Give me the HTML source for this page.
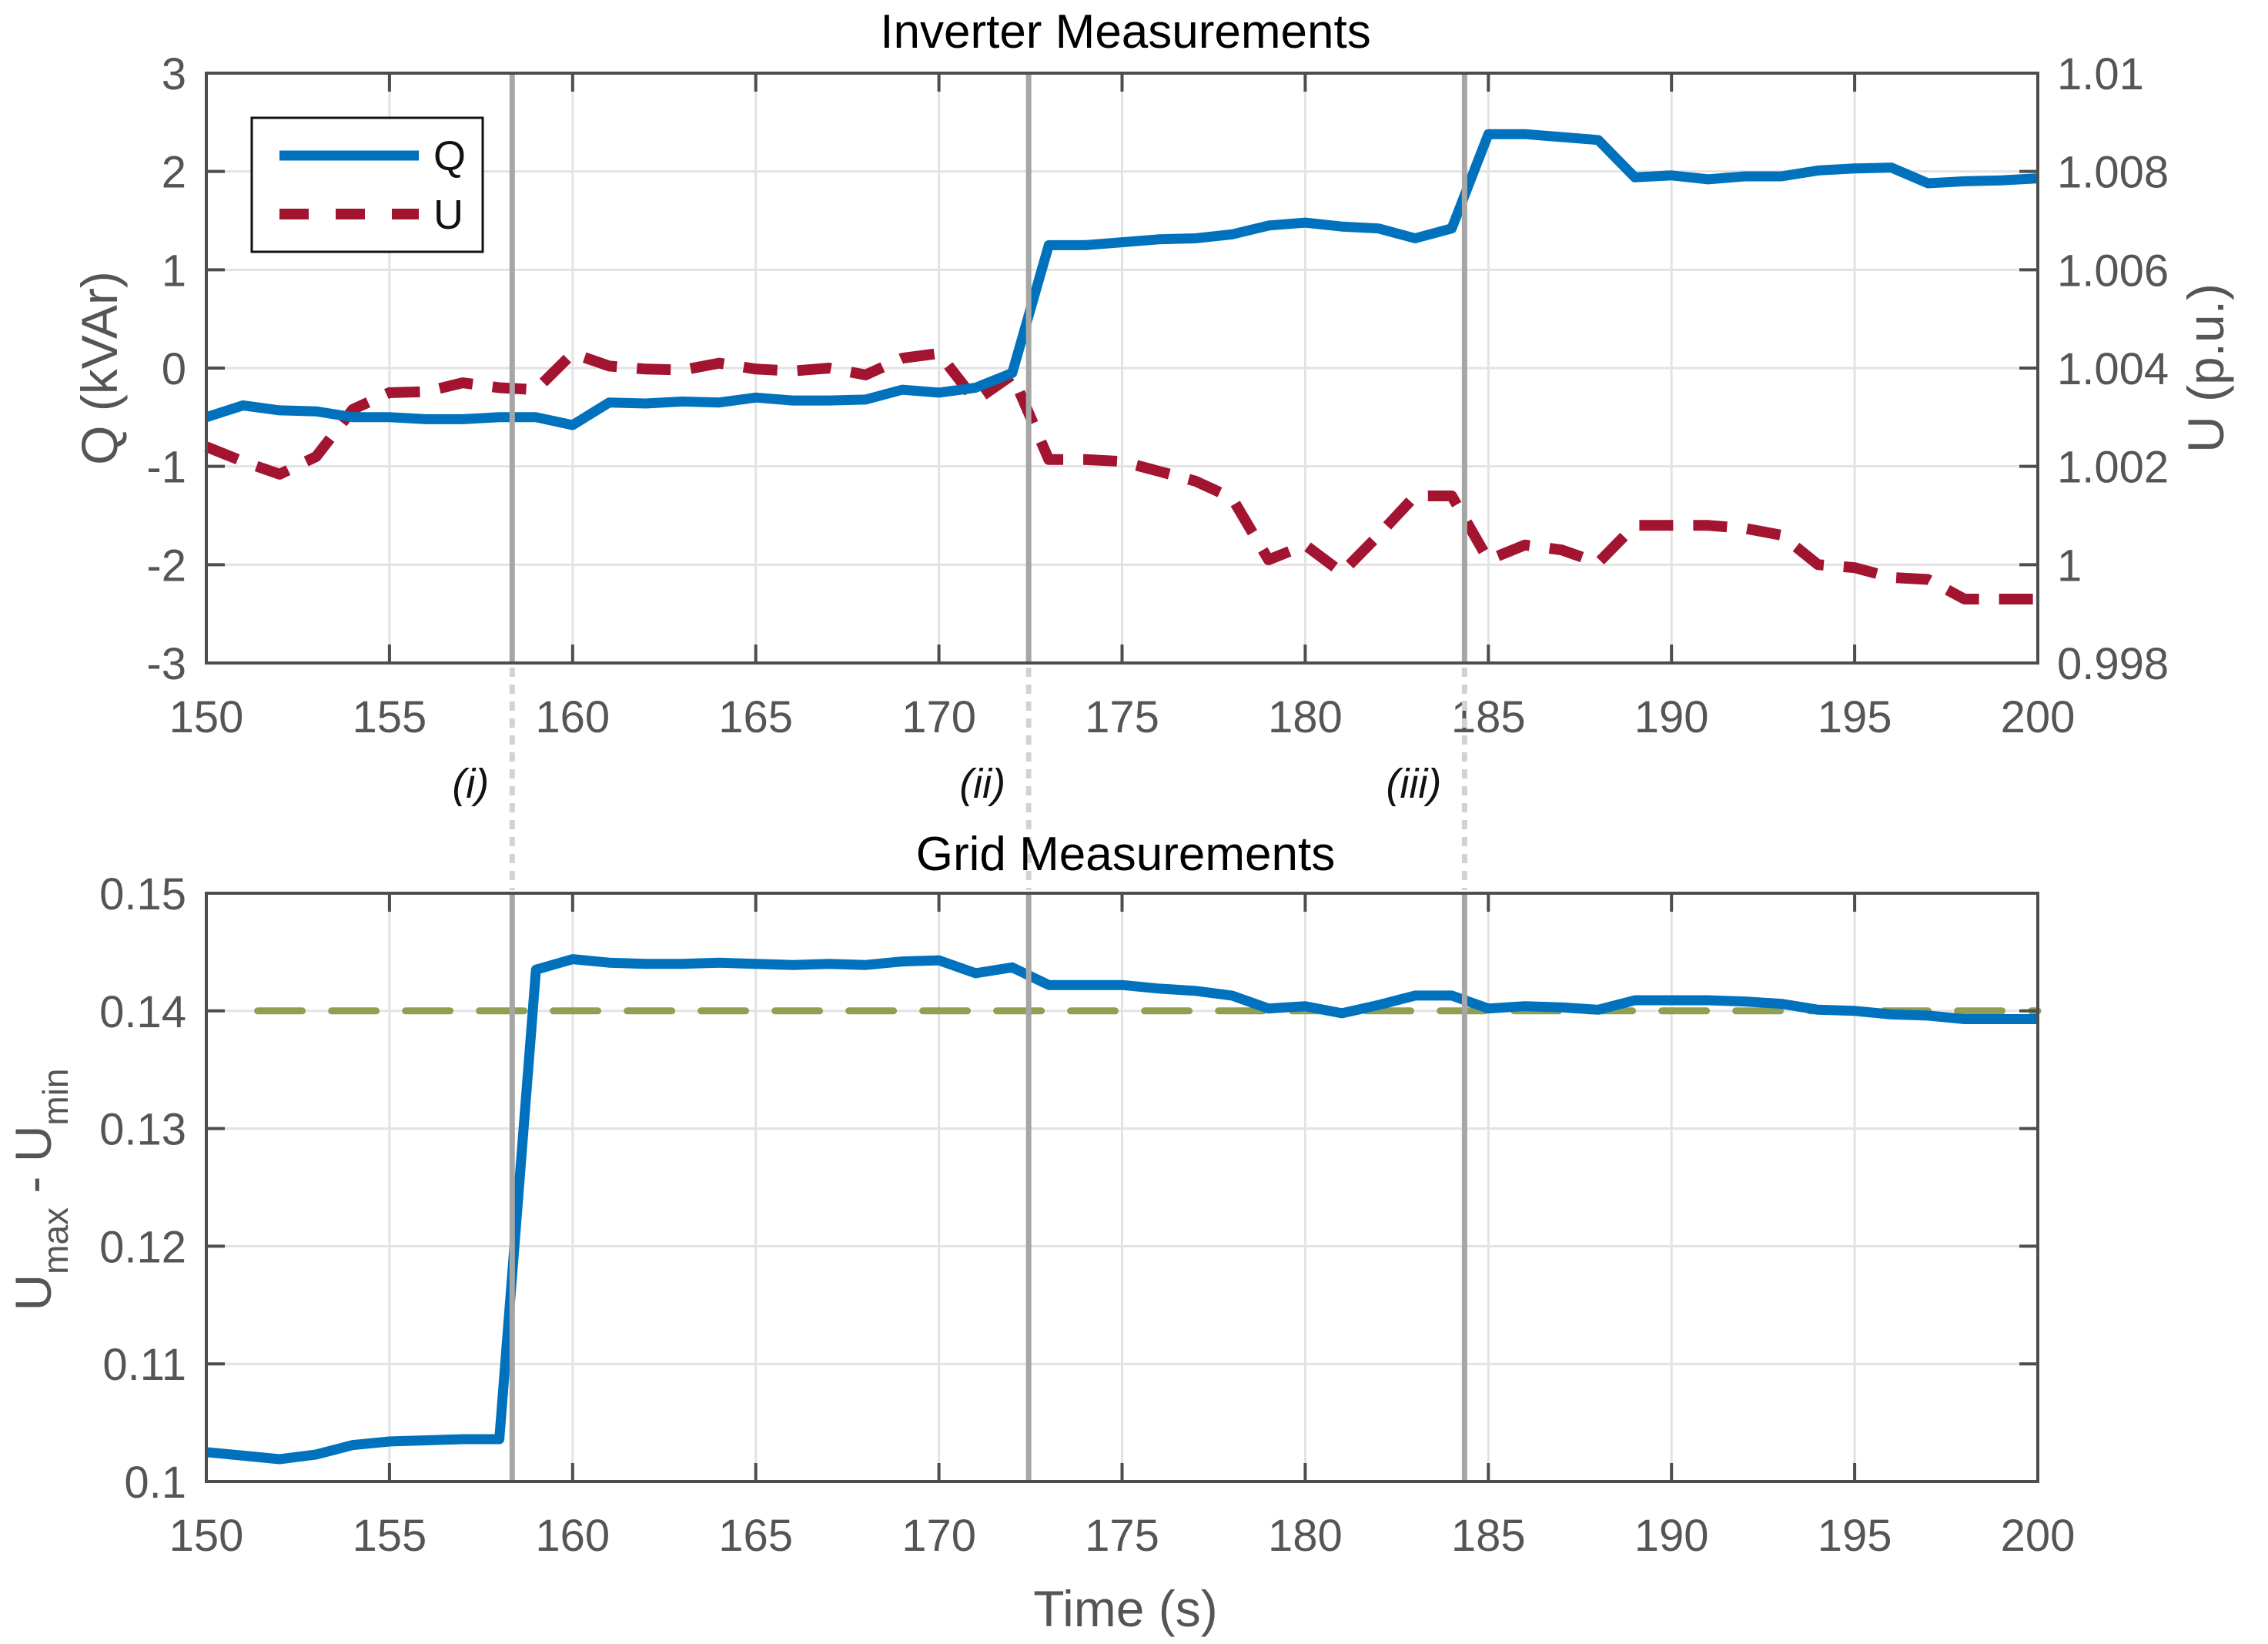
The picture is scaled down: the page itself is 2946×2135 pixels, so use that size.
<!DOCTYPE html>
<html><head><meta charset="utf-8"><style>
html,body{margin:0;padding:0;background:#fff;}
svg{display:block;font-family:"Liberation Sans",Arial,sans-serif;}
</style></head><body>
<svg id="chart" width="2946" height="2135" viewBox="0 0 2946 2135" xmlns="http://www.w3.org/2000/svg"></svg>
<script>
const times = [150,151,152,153,154,155,156,157,158,159,160,161,162,163,164,165,166,167,168,169,170,171,172,173,174,175,176,177,178,179,180,181,182,183,184,185,186,187,188,189,190,191,192,193,194,195,196,197,198,199,200];
const qValues = [-0.5,-0.38,-0.43,-0.44,-0.5,-0.5,-0.52,-0.52,-0.5,-0.5,-0.58,-0.35,-0.36,-0.34,-0.35,-0.3,-0.33,-0.33,-0.32,-0.22,-0.25,-0.2,-0.05,1.25,1.25,1.28,1.31,1.32,1.36,1.45,1.48,1.44,1.42,1.32,1.42,2.38,2.38,2.35,2.32,1.94,1.96,1.92,1.95,1.95,2.01,2.03,2.04,1.88,1.9,1.91,1.93];
const uValues = [1.0024,1.0021,1.00184,1.0022,1.00316,1.0035,1.00352,1.0037,1.0036,1.00356,1.0043,1.00404,1.00398,1.00396,1.0041,1.00398,1.00394,1.004,1.00386,1.0042,1.0043,1.00334,1.00386,1.00214,1.00214,1.0021,1.0019,1.0017,1.00136,1.0001,1.0004,0.99984,1.0006,1.0014,1.0014,1.0001,1.0004,1.0003,1.00004,1.0008,1.0008,1.0008,1.00074,1.0006,1.0,0.99994,0.99974,0.9997,0.9993,0.9993,0.9993];
const gridValues = [0.1025,0.1022,0.1019,0.1023,0.1031,0.1034,0.1035,0.1036,0.1036,0.1435,0.1444,0.1441,0.144,0.144,0.1441,0.144,0.1439,0.144,0.1439,0.1442,0.1443,0.1432,0.1437,0.1422,0.1422,0.1422,0.1419,0.1417,0.1413,0.1402,0.1404,0.1398,0.1405,0.1413,0.1413,0.1402,0.1404,0.1403,0.1401,0.1409,0.1409,0.1409,0.1408,0.1406,0.1401,0.14,0.1397,0.1396,0.1393,0.1393,0.1393];
const threshold = [0.14];
const eventTimes = [158.35,172.45,184.35];
const eventLabels = ["(i)","(ii)","(iii)"];
const xTicks = [150,155,160,165,170,175,180,185,190,195,200];
const qTicks = [-3,-2,-1,0,1,2,3];
const uTicks = [0.998,1,1.002,1.004,1.006,1.008,1.01];
const uTickLabels = ["0.998","1","1.002","1.004","1.006","1.008","1.01"];
const gTicks = [0.1,0.11,0.12,0.13,0.14,0.15];
const gTickLabels = ["0.1","0.11","0.12","0.13","0.14","0.15"];

const NS="http://www.w3.org/2000/svg";
const svg=document.getElementById('chart');
function mk(tag,attrs,parent,text){const e=document.createElementNS(NS,tag);for(const k in attrs)e.setAttribute(k,attrs[k]);if(text!==undefined)e.textContent=text;(parent||svg).appendChild(e);return e;}
const L=268,R=2647;
const T1=95,B1=861,T2=1160,B2=1924;
const x=t=>L+(t-150)/50*(R-L);
const yQ=v=>B1-(v+3)/6*(B1-T1);
const yU=v=>B1-(v-0.998)/0.012*(B1-T1);
const yG=v=>B2-(v-0.1)/0.05*(B2-T2);
const axisCol="#4d4d4d", tickCol="#555";
const FS=58;

function gridAndBox(T,B,yTicksArr,yf,prefix){
  const g=mk('g',{});
  
  
  xTicks.forEach(t=>{mk('line',{x1:x(t),x2:x(t),y1:T,y2:B,stroke:'#e3e3e3','stroke-width':3},g);});
  yTicksArr.forEach(v=>{mk('line',{x1:L,x2:R,y1:yf(v),y2:yf(v),stroke:'#e3e3e3','stroke-width':3},g);});
}
function box(T,B,yTicksArr,yf,prefix,rightTicks,ryf){
  const g=mk('g',{});
  
  
  mk('rect',{x:L,y:T,width:R-L,height:B-T,fill:'none',stroke:axisCol,'stroke-width':4},g);
  xTicks.forEach(t=>{mk('line',{x1:x(t),x2:x(t),y1:B,y2:B-24,stroke:axisCol,'stroke-width':4},g);mk('line',{x1:x(t),x2:x(t),y1:T,y2:T+24,stroke:axisCol,'stroke-width':4},g);});
  yTicksArr.forEach(v=>{mk('line',{x1:L,x2:L+24,y1:yf(v),y2:yf(v),stroke:axisCol,'stroke-width':4},g);});
  (rightTicks||yTicksArr).forEach(v=>{const yy=(ryf||yf)(v);mk('line',{x1:R,x2:R-24,y1:yy,y2:yy,stroke:axisCol,'stroke-width':4},g);});
}
function xLabels(B,prefix){
  const g=mk('g',{});
  
  
  xTicks.forEach(t=>{mk('text',{x:x(t),y:B+90,'text-anchor':'middle','font-size':FS,fill:tickCol},g,String(t));});
}
function polyline(xs,ys,xf,yf,attrs,name){
  const pts=xs.map((t,i)=>x(t).toFixed(1)+','+yf(ys[i]).toFixed(1)).join(' ');
  const p=mk('polyline',Object.assign({points:pts,fill:'none'},attrs));
  
  
  return p;
}

// ---- Top plot
gridAndBox(T1,B1,qTicks,yQ,'top');
const ql=mk('g',{});


qTicks.forEach(v=>{mk('text',{x:242,y:yQ(v)+21,'text-anchor':'end','font-size':FS,fill:tickCol},ql,String(v));});
const ul=mk('g',{});


uTicks.forEach((v,i)=>{mk('text',{x:2672,y:yU(v)+21,'text-anchor':'start','font-size':FS,fill:tickCol},ul,uTickLabels[i]);});
xLabels(B1,'top');
polyline(times,uValues,x,yU,{stroke:'#A2142F','stroke-width':14,'stroke-dasharray':'44 26','stroke-linejoin':'round'},'u-line');
polyline(times,qValues,x,yQ,{stroke:'#0072BD','stroke-width':13,'stroke-linejoin':'round'},'q-line');

// ---- Bottom plot
gridAndBox(T2,B2,gTicks,yG,'bottom');
const gl=mk('g',{});


gTicks.forEach((v,i)=>{mk('text',{x:242,y:yG(v)+21,'text-anchor':'end','font-size':FS,fill:tickCol},gl,gTickLabels[i]);});
xLabels(B2,'bottom');
const th=mk('line',{x1:x(151.4),x2:R,y1:yG(threshold[0]),y2:yG(threshold[0]),stroke:'#8FA052','stroke-width':9,'stroke-dasharray':'58 38','stroke-linecap':'round'});


polyline(times,gridValues,x,yG,{stroke:'#0072BD','stroke-width':13,'stroke-linejoin':'round'},'grid-line');

// ---- Event lines
eventTimes.forEach((t,i)=>{
  const g=mk('g',{});
  
  
  mk('line',{x1:x(t),x2:x(t),y1:T1,y2:B1,stroke:'#a6a6a6','stroke-width':7},g);
  mk('line',{x1:x(t),x2:x(t),y1:T2,y2:B2,stroke:'#a6a6a6','stroke-width':7},g);
  mk('line',{x1:x(t),x2:x(t),y1:B1+6,y2:T2-4,stroke:'#d2d2d2','stroke-width':7,'stroke-dasharray':'12 10'},g);
  mk('text',{x:x(t)-30,y:1036,'text-anchor':'end','font-size':54,'font-style':'italic',fill:'#111'},g,eventLabels[i]);
});

box(T1,B1,qTicks,yQ,'top',uTicks,yU);
box(T2,B2,gTicks,yG,'bottom');

// ---- Legend
const lg=mk('g',{});


mk('rect',{x:327,y:153,width:300,height:174,fill:'#fff',stroke:'#111','stroke-width':3},lg);
const le1=mk('g',{},lg);


mk('line',{x1:363,x2:544,y1:202,y2:202,stroke:'#0072BD','stroke-width':13},le1);
mk('text',{x:563,y:221,'font-size':54,fill:'#111'},le1,'Q');
const le2=mk('g',{},lg);


mk('line',{x1:363,x2:544,y1:278,y2:278,stroke:'#A2142F','stroke-width':14,'stroke-dasharray':'38 35'},le2);
mk('text',{x:563,y:297,'font-size':54,fill:'#111'},le2,'U');

// ---- Titles and axis labels
const t1=mk('text',{x:1462,y:62,'text-anchor':'middle','font-size':62,fill:'#000'},svg,'Inverter Measurements');


const t2=mk('text',{x:1462,y:1130,'text-anchor':'middle','font-size':62,fill:'#000'},svg,'Grid Measurements');


const yl1=mk('text',{x:0,y:0,transform:'translate(152,478) rotate(-90)','text-anchor':'middle','font-size':66,fill:'#555'},svg,'Q (kVAr)');


const yl2=mk('text',{x:0,y:0,transform:'translate(2888,478) rotate(-90)','text-anchor':'middle','font-size':66,fill:'#555'},svg,'U (p.u.)');


const yl3=mk('text',{x:0,y:0,transform:'translate(66,1545) rotate(-90)','text-anchor':'middle','font-size':66,fill:'#555'});


mk('tspan',{},yl3,'U');
mk('tspan',{'font-size':46,dy:22},yl3,'max');
mk('tspan',{dy:-22},yl3,' - U');
mk('tspan',{'font-size':46,dy:22},yl3,'min');
const xl=mk('text',{x:1462,y:2112,'text-anchor':'middle','font-size':66,fill:'#555'},svg,'Time (s)');


</script>
</body></html>
